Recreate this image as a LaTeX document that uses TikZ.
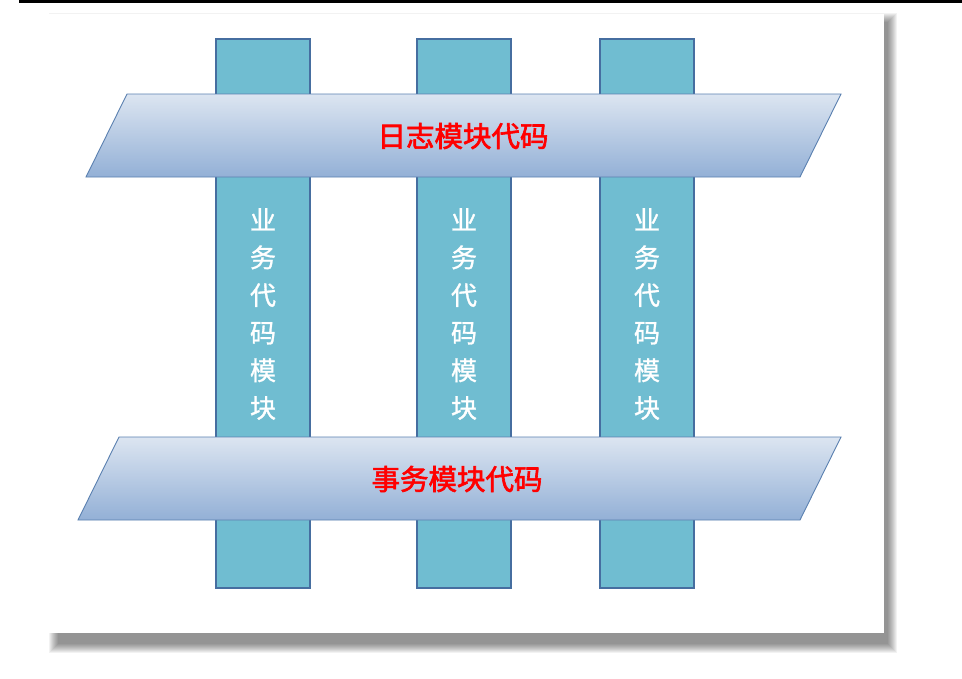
\documentclass[tikz,border=0pt]{standalone}
\usepackage{fontspec}
\newfontfamily\cjkr[FakeBold=2.2]{Noto Sans CJK SC}
\newfontfamily\cjkc[FakeBold=1.2]{Noto Sans CJK SC}
\definecolor{colfill}{RGB}{112,189,209}
\definecolor{colline}{RGB}{70,110,160}
\definecolor{bartop}{RGB}{220,229,241}
\definecolor{barbot}{RGB}{147,176,214}
\definecolor{barline}{RGB}{90,128,176}
\tikzset{
  colbox/.style={draw=colline, line width=1.2pt, fill=colfill, minimum width=94pt, minimum height=549pt, inner sep=0pt},
  bar/.style={draw=barline, line width=0.9pt, top color=bartop, bottom color=barbot},
  barlabel/.style={text=red, font=\cjkr\fontsize{28.5}{30}\selectfont},
  collabel/.style={text=white, font=\cjkc\fontsize{26}{37.6}\selectfont, align=center}
}
\begin{document}
\begin{tikzpicture}[x=1pt,y=1pt]
\useasboundingbox (0,0) rectangle (962,-678);
\fill[white] (0,0) rectangle (962,-678);
% top rule
\fill[black] (19,0) rectangle (962,-2.6);
% page shadow
\foreach \i in {0,...,9}{
  \fill[black, opacity=0.05] (58-\i,-22+\i) rectangle (888+\i,-644-\i);
}
% page
\fill[white] (48,-14) rectangle (884,-633);
% columns
\node[colbox] (c1) at (263,-313.5) {};
\node[colbox] (c2) at (464,-313.5) {};
\node[colbox] (c3) at (647,-313.5) {};
% bars
\coordinate (t1) at (127,-94);
\coordinate (t2) at (841,-94);
\coordinate (t3) at (800,-177);
\coordinate (t4) at (86,-177);
\shade[bar] (t1) -- (t2) -- (t3) -- (t4) -- cycle;
\coordinate (b1) at (119,-437);
\coordinate (b2) at (841,-437);
\coordinate (b3) at (800,-520);
\coordinate (b4) at (78,-520);
\shade[bar] (b1) -- (b2) -- (b3) -- (b4) -- cycle;
\node[barlabel] (tl) at (463,-136) {日志模块代码};
\node[barlabel] (bl) at (457,-479) {事务模块代码};
% column labels
\node[collabel] (l1) at (263,-314) {业\\务\\代\\码\\模\\块};
\node[collabel] (l2) at (464,-314) {业\\务\\代\\码\\模\\块};
\node[collabel] (l3) at (647,-314) {业\\务\\代\\码\\模\\块};
\end{tikzpicture}
\end{document}
